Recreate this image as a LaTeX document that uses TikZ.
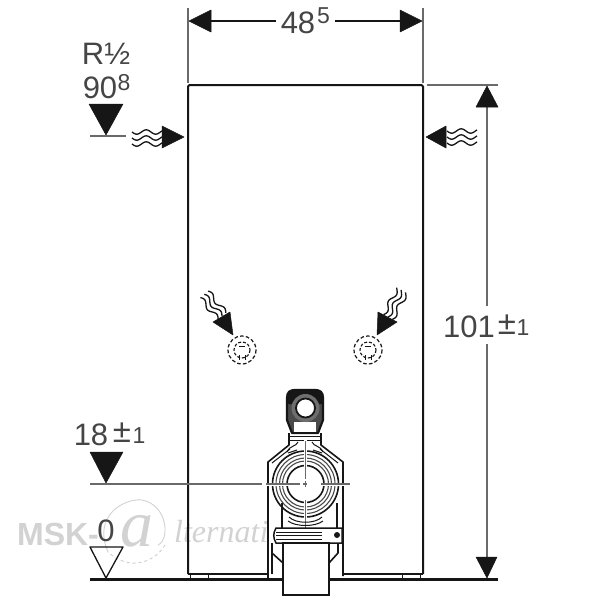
\documentclass[tikz,border=0pt]{standalone}
\usepackage{fontspec}
\setmainfont{Liberation Sans}
\newfontfamily\wmserif{Liberation Serif}
\definecolor{ink}{HTML}{161616}
\definecolor{dimgray}{HTML}{6A6A6A}
\definecolor{ringgray}{HTML}{4A4A4A}
\definecolor{txt}{HTML}{454545}
\definecolor{wm}{HTML}{D2D2D2}
\newcommand{\wavy}[5]{% x y angle length spacing
  \foreach \off in {-#5,0,#5}{
    \draw[ink,line width=1.3pt] plot[smooth,domain=0:#4,samples=24]
      ({#1+\x*cos(#3)-(\off+2.2*sin(\x*19))*sin(#3)},{#2+\x*sin(#3)+(\off+2.2*sin(\x*19))*cos(#3)});
  }}
\tikzset{
  x=1pt,y=-1pt,
  body/.style={draw=ink,line width=2pt,line join=round},
  part/.style={draw=ink,line width=1.6pt,line join=round},
  fine/.style={draw=ink,line width=1pt},
  dimline/.style={draw=dimgray,line width=1.3pt},
  level/.style={draw=dimgray,line width=1.6pt},
  tip/.style={fill=ink,draw=ink,line width=.5pt,line join=round},
  big/.style={text=txt,inner sep=0pt,font=\fontsize{31}{31}\selectfont},
  small/.style={text=txt,inner sep=0pt,font=\fontsize{23}{23}\selectfont},
  plusminus/.style={text=txt,inner sep=0pt,font=\fontsize{33}{33}\selectfont},
}
\begin{document}
\begin{tikzpicture}
\useasboundingbox (0,0) rectangle (600,600);
\fill[white] (0,0) rectangle (600,600);
% watermark
\node[text=wm,inner sep=0pt,font=\fontsize{32}{32}\selectfont\bfseries] (wmsk) at (58,534) {MSK-};
\draw[wm,line width=.9pt] (108,552) .. controls (92,515) and (125,498) .. (142,500) .. controls (168,505) and (170,540) .. (158,545);
\draw[wm,line width=1pt,dashed] (165,545) .. controls (155,562) and (130,572) .. (108,552);
\node[text=wm,inner sep=0pt,font=\wmserif\itshape\fontsize{66}{66}\selectfont] (wma) at (137,531) {a};
\node[text=wm,inner sep=0pt,anchor=west,font=\wmserif\itshape\fontsize{32}{32}\selectfont] (wmalt) at (174,532) {lternati};
% cabinet
\draw[body,rounded corners=1.5pt] (188,574) -- (188,85) -- (423,85) -- (423,574);
\draw[part] (188,574) -- (268,574) (343,574) -- (423,574);
\draw[fine] (208,574) -- (208,579) (190,574) -- (190,579) (402,574) -- (402,579) (420,574) -- (420,579);
\draw[draw=ink,line width=2.4pt] (90,579.5) -- (283,579.5) (329,579.5) -- (498,579.5);
% top dimension
\draw[dimline] (188,8) -- (188,83) (423,8) -- (423,83);
\node[big] (w48) at (298,23) {48};
\node[small] (w5) at (323.5,16) {5};
\fill[tip] (189,21) -- (211,10) -- (211,32) -- cycle;
\fill[tip] (422,21) -- (400,10) -- (400,32) -- cycle;
\draw[draw=ink,line width=1.2pt] (211,21) -- (276,21) (335,21) -- (400,21);
% right dimension
\draw[dimline] (427,85) -- (498,85);
\draw[dimline] (487,107) -- (487,306) (487,344) -- (487,557);
\fill[tip] (487,86) -- (476,107) -- (498,107) -- cycle;
\fill[tip] (487,578) -- (476,557) -- (497,557) -- cycle;
\node[big] (h101) at (469,327) {101};
\node[plusminus] (hpm) at (507,325) {±};
\node[small] (hone) at (523,328) {1};
% R 1/2 marker
\node[big] (rlab) at (106,54) {R½};
\node[big] (l90) at (100,88) {90};
\node[small] (l8) at (124,83) {8};
\fill[tip] (89,104) -- (123,104) -- (106,135) -- cycle;
\draw[level] (90,136) -- (126,136);
% water arrows
\wavy{132}{138}{0}{30}{6}
\fill[tip] (184,137) -- (162,126) -- (162,148) -- cycle;
\wavy{447}{137}{0}{30}{6}
\fill[tip] (426,137) -- (446,126) -- (446,148) -- cycle;
\wavy{222}{316}{-130}{28}{5}
\fill[tip] (233,335) -- (230,312) -- (213,322) -- cycle;
\wavy{388}{317}{-62}{30}{5}
\fill[tip] (377,335) -- (378,312) -- (397,322) -- cycle;
% hidden outlets
\foreach \cx/\nm in {242/l,368/r}{
  \draw[ink,line width=1.2pt,dash pattern=on 3.6pt off 2.2pt] (\cx,350) circle[radius=14];
  \draw[ink,line width=1.1pt,dash pattern=on 3pt off 1.8pt] (\cx,350) circle[radius=8];
  \draw[ink,line width=1pt] (\cx-3,355) -- (\cx-3,360) (\cx+3,355) -- (\cx+3,360) (\cx-3,346) -- (\cx+3,346);
}
% 18 marker
\node[big] (l18) at (91,435) {18};
\node[plusminus] (lpm) at (122,433) {±};
\node[small] (lone) at (139,436) {1};
\fill[tip] (90,452) -- (123,452) -- (106,483) -- cycle;
\draw[level] (90,484) -- (262,484);
% 0 marker
\node[big] (l0) at (106,531) {0};
\draw[draw=ink,line width=1.3pt,line join=round] (90,547) -- (123,547) -- (106,578) -- cycle;
% connection: head
\draw[draw=ink,fill=ringgray,line width=2.2pt,line join=round] (287,420) -- (287,398) .. controls (287,392) and (290,390) .. (295,390) -- (315,390) .. controls (320,390) and (323,392) .. (323,398) -- (323,420) -- (318,433) -- (292,433) -- cycle;
\fill[ink] (287,398) .. controls (287,392) and (290,390) .. (295,390) -- (315,390) .. controls (320,390) and (323,392) .. (323,398) -- (323,404) -- (287,404) -- cycle;
\fill[white] (294,422) -- (316,422) -- (316,431.5) -- (294,431.5) -- cycle;
\fill[ringgray!80] (305.5,408) circle[radius=14];
\filldraw[fill=white,draw=ink,line width=1.8pt] (305.5,408) circle[radius=9.5];
% body
\draw[part] (289,433) -- (289,445) -- (268,462) -- (268,580);
\draw[part] (321,433) -- (321,445) -- (343,462) -- (343,576);
\draw[fine] (289,436) -- (321,436) (289,440) -- (321,440);
\draw[fine] (272,463) -- (290,449) (338,463) -- (320,449);
\draw[fine] (287,452) .. controls (290,445) and (296,447) .. (298,442) (323,452) .. controls (320,445) and (314,447) .. (312,442);
\draw[fine] (288,453) -- (297,450) (322,453) -- (313,450);
% rings
\draw[part] (305.5,484) circle[radius=33];
\draw[draw=ringgray,line width=1.1pt] (305.5,484) circle[radius=29.5];
\draw[draw=ringgray,line width=1.1pt] (305.5,484) circle[radius=26];
\draw[draw=ringgray,line width=1.1pt] (305.5,484) circle[radius=23];
\draw[part] (305.5,484) circle[radius=18.5];
% centre lines through the rings
\draw[draw=white,line width=3pt] (305.5,438) -- (305.5,480) (305.5,498) -- (305.5,528);
\draw[draw=dimgray,line width=1.3pt] (305.5,441) -- (305.5,479) (305.5,481) -- (305.5,487) (305.5,500) -- (305.5,528);
\draw[draw=white,line width=3pt] (264,484) -- (300,484) (321,484) -- (352,484);
\draw[level] (266,484) -- (300,484) (303,484) -- (307,484) (321,484) -- (350,484);
% lower body
\draw[part] (282,503) -- (282,528) (337,503) -- (337,528);
\draw[fine] (289,517) .. controls (296,524) and (315,524) .. (322,517) (288,521) .. controls (296,527) and (315,527) .. (323,521);
\filldraw[fill=white,draw=ink,line width=1.5pt] (276,528) -- (342,528) -- (342,543) -- (276,543) .. controls (273,538) and (273,533) .. (276,528) -- cycle;
\draw[draw=ink,line width=.9pt] (276,532) -- (322,532) (276,535.5) -- (322,535.5) (276,539) -- (322,539);
\fill[ink] (337,535) circle[radius=3];
\draw[part] (272,543) -- (272,553) -- (283,563);
\draw[part] (338,543) -- (338,553) -- (329,563);
\draw[part] (272,553) -- (272,574);
\draw[part] (343,543) -- (343,576);
\filldraw[fill=white,draw=ink,line width=1.7pt] (283,543) -- (329,543) -- (329,595) -- (283,595) -- cycle;
\end{tikzpicture}
\end{document}
